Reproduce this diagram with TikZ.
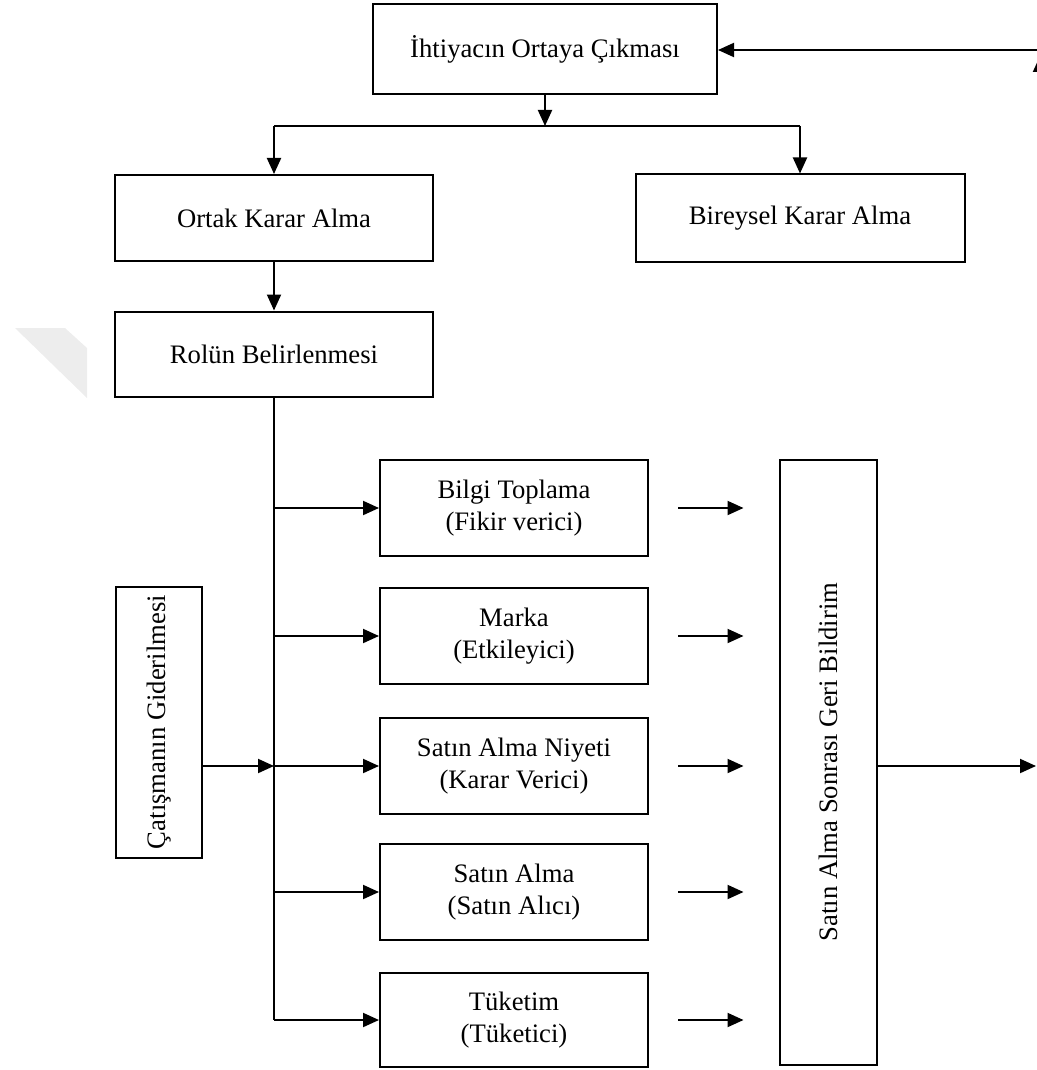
\documentclass[tikz,border=0pt]{standalone}
\usepackage{fontspec}
\usepackage{graphicx}
\setmainfont{Liberation Serif}
\usetikzlibrary{arrows.meta,calc}
\begin{document}
\begin{tikzpicture}[x=0.75pt,y=-0.75pt,
  box/.style={draw, line width=1.5pt, align=center, inner sep=0pt,
    font=\fontsize{20}{23.5}\selectfont},
  sz/.style 2 args={minimum width=#1*0.75pt, minimum height=#2*0.75pt},
  link/.style={line width=1.5pt},
  arr/.style={link, -{Triangle[length=12pt,width=10.5pt]}},
]
\useasboundingbox (0,0) rectangle (1037,1070);
\clip (0,0) rectangle (1037,1070);

% faint corner mark
\fill[black!7] (15,328) -- (65,328) -- (87,348) -- (87,398) -- cycle;

% boxes
\node[box, sz={344}{90}] (need) at (545,49) {İhtiyacın Ortaya Çıkması};
\node[box, sz={318}{86}] (ortak) at (274,218) {Ortak Karar Alma};
\node[box, sz={329}{87}] (bireysel) at (800,218) {Bireysel Karar Alma};
\node[box, sz={318}{85}] (rol) at (274,354) {Rolün Belirlenmesi};

\node[box, sz={268}{96}] (bilgi) at (514,508) {Bilgi Toplama\\(Fikir verici)};
\node[box, sz={268}{96}] (marka) at (514,636) {Marka\\(Etkileyici)};
\node[box, sz={268}{96}] (niyet) at (514,766) {Satın Alma Niyeti\\(Karar Verici)};
\node[box, sz={268}{96}] (satin) at (514,892) {Satın Alma\\(Satın Alıcı)};
\node[box, sz={268}{94}] (tuketim) at (514,1020) {Tüketim\\(Tüketici)};

\node[box, sz={86}{271}] (catisma) at (159,722) {\rotatebox{90}{Çatışmanın Giderilmesi}};
\node[box, sz={97}{605}] (geri) at (828,762) {\rotatebox{90}{Satın Alma Sonrası Geri Bildirim}};

% split below the first box
\coordinate (split) at (545,126);
\draw[link] (ortak.north |- split) -- (bireysel.north |- split);
\draw[arr] (need.south) -- (split);
\draw[arr] (ortak.north |- split) -- (ortak.north);
\draw[arr] (bireysel.north |- split) -- (bireysel.north);
\draw[arr] (ortak.south) -- (rol.north);

% role bus with its branches
\coordinate (busend) at (rol.south |- tuketim.west);
\draw[link] (rol.south) -- (busend);
\foreach \n in {bilgi,marka,niyet,satin,tuketim}{
  \draw[arr] (rol.south |- \n.west) -- (\n.west);
  \coordinate (\n-a) at ($(\n.east)+(29,0)$);
  \coordinate (\n-b) at ($(geri.west |- \n.east)+(-35,0)$);
  \draw[arr] (\n-a) -- (\n-b);
}
\draw[arr] (catisma.east |- niyet.west) -- (rol.south |- niyet.west);

% feedback loop back to the top
\coordinate (exit) at (1036,766);
\coordinate (loopB) at (1040,766);
\coordinate (loopT) at (1040,56);
\coordinate (loopC) at (1040,50);
\draw[arr] (geri.east |- exit) -- (exit);
\draw[arr] (loopB) -- (loopT);
\draw[arr] (loopC) -- (need.east |- loopC);
\end{tikzpicture}
\end{document}
